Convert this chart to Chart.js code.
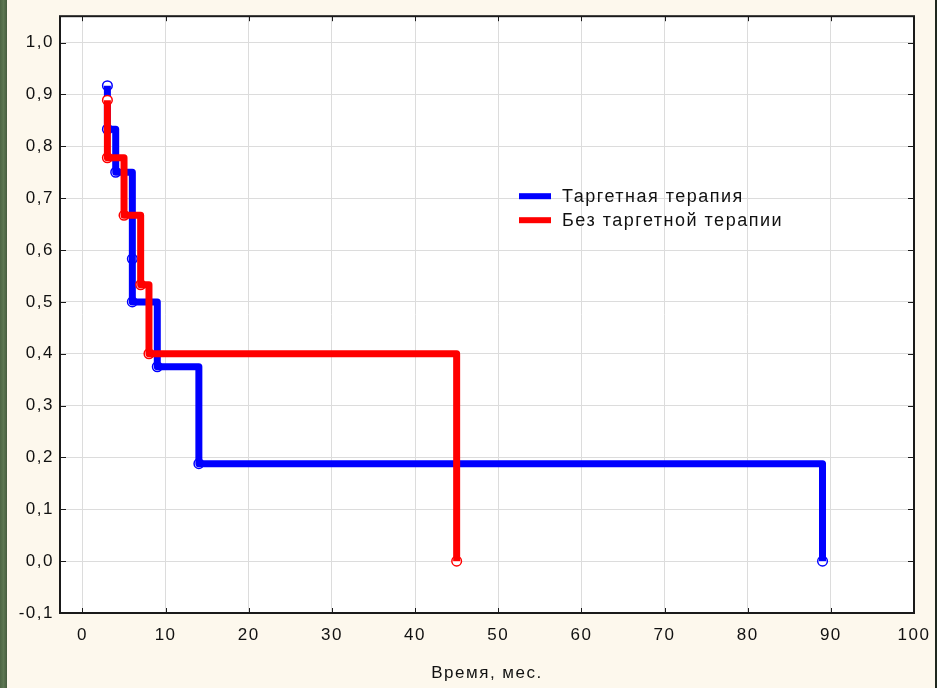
<!DOCTYPE html>
<html>
<head>
<meta charset="utf-8">
<script src="https://cdn.jsdelivr.net/npm/chart.js@4.4.1/dist/chart.umd.min.js"></script>
<style>
	html, body { margin: 0; padding: 0; }
	body { width: 937px; height: 688px; background: #fdf8ed; position: relative; overflow: hidden; }
	.strip-left { position: absolute; left: 0; top: 0; width: 7px; height: 688px;
		background: linear-gradient(90deg, #4c6443, #5d7752 50%, #465c3e); }
	.strip-right { position: absolute; left: 935px; top: 0; width: 2px; height: 688px; background: #1f281f; }
	#km { position: absolute; left: 0; top: 0; }
</style>
</head>
<body>
<div class="strip-left"></div>
<div class="strip-right"></div>
<canvas id="km" width="937" height="688"></canvas>
<script>
// --- Данные (Каплан-Мейер) ---
const seriesNames = ["Таргетная терапия", "Без таргетной терапии"];
const seriesColors = ["#0000ff", "#ff0000"];

const targetMonths = [3, 3, 4, 6, 6, 9, 14, 89];
const targetSurv = [0.917, 0.833, 0.75, 0.583, 0.5, 0.375, 0.188, 0];

const noTargetMonths = [3, 3, 5, 7, 8, 45];
const noTargetSurv = [0.889, 0.778, 0.667, 0.533, 0.4, 0];

const xTicks = [0, 10, 20, 30, 40, 50, 60, 70, 80, 90, 100];
const yTicks = [-0.1, 0, 0.1, 0.2, 0.3, 0.4, 0.5, 0.6, 0.7, 0.8, 0.9, 1.0];

const FONT = "'Liberation Sans', Arial, sans-serif";
const SPACING = "1.5px";
const pts = (xs, ys) => xs.map((x, i) => ({ x, y: ys[i] }));
const fmtY = (v) => v.toFixed(1).replace(".", ",");

// белая область графика, рамка, внутренние засечки и легенда
const frame = {
	id: "frame",
	beforeLayout(chart) { chart.ctx.letterSpacing = SPACING; },
	beforeDraw(chart) {
		const { ctx, chartArea: a } = chart;
		ctx.letterSpacing = SPACING;
		ctx.save();
		ctx.fillStyle = "#ffffff";
		ctx.fillRect(a.left, a.top, a.right - a.left, a.bottom - a.top);
		ctx.restore();
	},
	beforeDatasetsDraw(chart) {
		const { ctx, chartArea: a, scales } = chart;
		ctx.save();
		ctx.strokeStyle = "#1a1a1a";
		ctx.lineWidth = 1;
		ctx.beginPath();
		xTicks.forEach(v => {
			const px = Math.round(scales.x.getPixelForValue(v)) + 0.5;
			ctx.moveTo(px, a.bottom); ctx.lineTo(px, a.bottom - 5);
			ctx.moveTo(px, a.top); ctx.lineTo(px, a.top + 5);
		});
		yTicks.forEach(v => {
			const py = Math.round(scales.y.getPixelForValue(v)) + 0.5;
			ctx.moveTo(a.left, py); ctx.lineTo(a.left + 6, py);
			ctx.moveTo(a.right, py); ctx.lineTo(a.right - 6, py);
		});
		ctx.stroke();
		ctx.lineWidth = 2;
		ctx.strokeRect(a.left, a.top, a.right - a.left, a.bottom - a.top);
		ctx.restore();
	},
	afterDraw(chart) {
		const { ctx, chartArea: a } = chart;
		ctx.save();
		ctx.letterSpacing = "1.5px";
		ctx.font = `18px ${FONT}`;
		ctx.textBaseline = "middle";
		seriesNames.forEach((name, i) => {
			const y = a.top + 180 + i * 24;
			ctx.fillStyle = seriesColors[i];
			ctx.fillRect(a.left + 459, y - 3, 32, 6);
			ctx.fillStyle = "#111";
			ctx.fillText(name, a.left + 502, y + 1);
		});
		ctx.restore();
	}
};

// линия ступенькой без маркеров
const lineStyle = (i) => ({
	borderColor: seriesColors[i],
	borderWidth: 7,
	borderJoinStyle: "round",
	stepped: true,
	fill: false,
	pointRadius: 0
});

// кружки отдельно, под линией
const markStyle = (i) => ({
	showLine: false,
	pointRadius: 4.8,
	pointBorderWidth: 1.5,
	pointBackgroundColor: "#ffffff",
	pointBorderColor: seriesColors[i]
});

new Chart(document.getElementById("km"), {
	type: "line",
	data: {
		datasets: [
			{ label: seriesNames[0], data: pts(targetMonths, targetSurv), order: 2, ...lineStyle(0) },
			{ label: seriesNames[0], data: pts(targetMonths, targetSurv), order: 3, ...markStyle(0) },
			{ label: seriesNames[1], data: pts(noTargetMonths, noTargetSurv), order: 0, ...lineStyle(1) },
			{ label: seriesNames[1], data: pts(noTargetMonths, noTargetSurv), order: 1, ...markStyle(1) }
		]
	},
	options: {
		responsive: false,
		animation: false,
		layout: { padding: { top: 16, right: 23, left: 0, bottom: 0 } },
		plugins: { legend: { display: false }, tooltip: { enabled: false } },
		scales: {
			x: {
				type: "linear",
				min: -2.7, max: 100,
				afterBuildTicks: (s) => { s.ticks = xTicks.map(v => ({ value: v })); },
				afterFit: (s) => { s.height = 75; s.paddingLeft = 0; s.paddingRight = 0; },
				grid: { color: "#dcdcdc", drawTicks: false },
				border: { display: false },
				ticks: { color: "#111", padding: 12, maxRotation: 0, font: { family: FONT, size: 17 } },
				title: { display: true, text: "Время, мес.", color: "#111", padding: { top: 0, bottom: 4 }, font: { family: FONT, size: 17 } }
			},
			y: {
				type: "linear",
				min: -0.1, max: 1.051,
				afterBuildTicks: (s) => { s.ticks = yTicks.map(v => ({ value: v })); },
				afterFit: (s) => { s.width = 60; },
				grid: { color: "#dcdcdc", drawTicks: false },
				border: { display: false },
				ticks: { color: "#111", padding: 6, callback: fmtY, font: { family: FONT, size: 17 } }
			}
		}
	},
	plugins: [frame]
});
</script>
</body>
</html>
